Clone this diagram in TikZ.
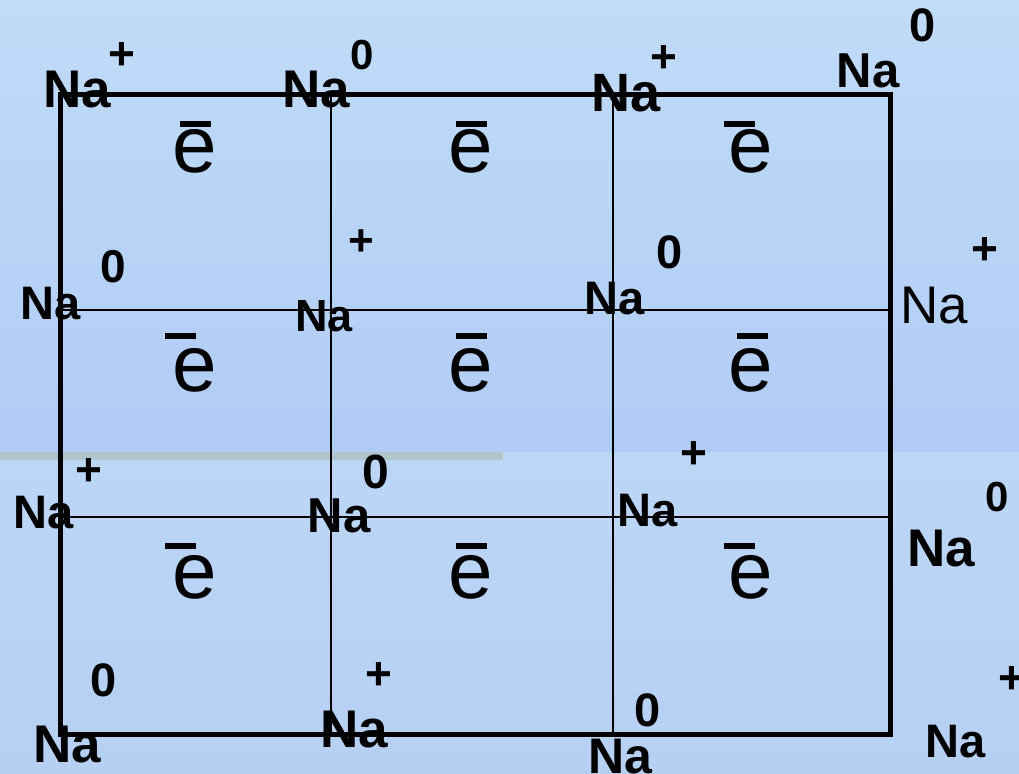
\documentclass[tikz,border=0pt]{standalone}
\usepackage{fontspec}
\setmainfont{Liberation Sans}
\definecolor{bgtop}{RGB}{192,220,248}
\definecolor{bgmid}{RGB}{176,204,245}
\definecolor{bglowA}{RGB}{188,214,246}
\definecolor{bglowB}{RGB}{182,208,244}
\definecolor{band}{RGB}{176,196,204}
\tikzset{
  lbl/.style={inner sep=0pt, font=\bfseries\fontsize{#1}{#1}\selectfont},
  nalbl/.style={lbl=#1, anchor=base},
  elbl/.style={inner sep=0pt, font=\fontsize{80}{80}\selectfont},
  frame/.style={line width=5pt, line join=miter},
  grid/.style={line width=2pt}
}
\begin{document}
\begin{tikzpicture}[x=1pt,y=-1pt]
\useasboundingbox (0,0) rectangle (1019,773);
% background
\shade[top color=bgtop, bottom color=bgmid] (0,0) rectangle (1019,452);
\shade[top color=bglowA, bottom color=bglowB] (0,452) rectangle (1019,773);
\fill[band] (0,452) rectangle (503,460);
% grid
\coordinate (TL) at (60,95);
\coordinate (BR) at (890,734);
\draw[grid] (331,95) -- (331,734);
\draw[grid] (613,95) -- (613,734);
\draw[grid] (60,310) -- (890,310);
\draw[grid] (60,517) -- (890,517);
\draw[frame] (TL) rectangle (BR);
% electrons
\foreach \cx/\cy/\bx/\by [count=\i] in {
  195/151/180/121, 471/151/456/121, 751/151/724/121,
  195/370/165/333, 471/370/456/333, 751/370/737/333,
  195/577/165/543, 471/577/456/543, 751/577/724/543}{
  \node[elbl] (e\i) at (\cx,\cy) {e};
  \fill (\bx,\by) rectangle ++(31,6);
}
% sodium labels
\node[nalbl=53] (n1) at (77,108) {Na};
\node[lbl=46] (s1) at (122,56) {+};
\node[nalbl=53] (n2) at (316,108) {Na};
\node[lbl=42] (s2) at (362,55) {0};
\node[nalbl=54] (n3) at (626,112) {Na};
\node[lbl=46] (s3) at (664,59) {+};
\node[nalbl=49] (n4) at (868,88) {Na};
\node[lbl=47] (s4) at (923,25) {0};
\node[nalbl=47] (n5) at (51,319) {Na};
\node[lbl=46] (s5) at (113,267) {0};
\node[nalbl=45] (n6) at (324,331) {Na};
\node[lbl=44] (s6) at (361,243) {+};
\node[nalbl=47] (n7) at (615,314) {Na};
\node[lbl=47] (s7) at (670,252) {0};
\node[anchor=base, inner sep=0pt, font=\fontsize{53}{53}\selectfont] (n8) at (934,323) {Na};
\node[lbl=46] (s8) at (985,251) {+};
\node[nalbl=47] (n9) at (44,528) {Na};
\node[lbl=46] (s9) at (89,472) {+};
\node[nalbl=49] (n10) at (339,532) {Na};
\node[lbl=48] (s10) at (376,472) {0};
\node[nalbl=47] (n11) at (648,526) {Na};
\node[lbl=46] (s11) at (694,455) {+};
\node[nalbl=53] (n12) at (941,566) {Na};
\node[lbl=42] (s12) at (997,497) {0};
\node[nalbl=53] (n13) at (67,762) {Na};
\node[lbl=47] (s13) at (104,680) {0};
\node[nalbl=53] (n14) at (354,747) {Na};
\node[lbl=46] (s14) at (379,676) {+};
\node[nalbl=50] (n15) at (620,773) {Na};
\node[lbl=47] (s15) at (648,710) {0};
\node[nalbl=47] (n16) at (956,757) {Na};
\node[lbl=46] (s16) at (1012,680) {+};
\end{tikzpicture}
\end{document}
